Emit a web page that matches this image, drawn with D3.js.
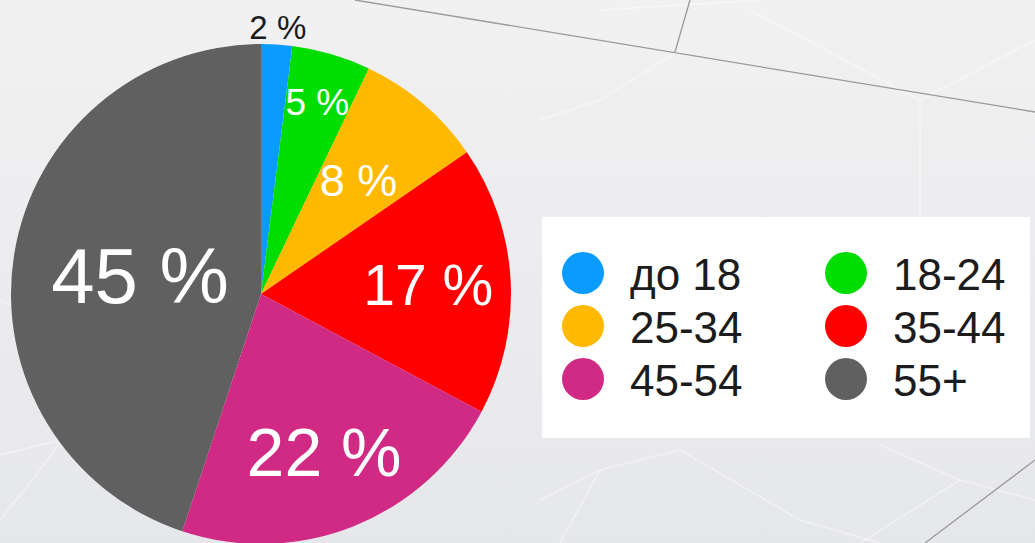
<!DOCTYPE html>
<html>
<head>
<meta charset="utf-8">
<script src="https://cdn.jsdelivr.net/npm/d3@7"></script>
<style>
  html, body { margin: 0; padding: 0; overflow: hidden; }
  body { width: 1035px; height: 543px; }
  svg { display: block; }
</style>
</head>
<body>
<svg id="chart" width="1035" height="543"></svg>
<script>
// ---- data ----
const categories = ["до 18", "18-24", "25-34", "35-44", "45-54", "55+"];
const shares = [2.0, 5.1, 8.3, 17.4, 22.3, 44.9];
const labels = ["2 %", "5 %", "8 %", "17 %", "22 %", "45 %"];
const colors = ["#0a9bff", "#00dd00", "#ffb900", "#ff0000", "#d02a85", "#606060"];

// ---- layout ----
const W = 1035, H = 543;
const cx = 261, cy = 294, R = 250;
const svg = d3.select("#chart");

// background
const defs = svg.append("defs");
const bg = defs.append("linearGradient").attr("id", "bg").attr("x1", 0).attr("y1", 0).attr("x2", 0).attr("y2", 1);
bg.append("stop").attr("offset", "0%").attr("stop-color", "#f1f1f2");
bg.append("stop").attr("offset", "100%").attr("stop-color", "#e6e7ea");
svg.append("rect").attr("width", W).attr("height", H).attr("fill", "url(#bg)");

// faint decorative network
const faint = [
  [[0, 300], [120, 360], [40, 470], [0, 520]],
  [[600, 10], [760, 0]],
  [[750, 10], [920, 100], [1035, 40]],
  [[680, 50], [600, 100], [540, 120]],
  [[920, 100], [920, 220]],
  [[540, 500], [600, 470], [680, 450], [800, 520], [880, 543]],
  [[600, 470], [560, 543]],
  [[860, 543], [960, 480], [1035, 500]],
  [[880, 445], [960, 480]],
  [[0, 455], [60, 440], [100, 410]],
];
svg.append("g").selectAll("path").data(faint).join("path")
  .attr("d", d3.line())
  .attr("fill", "none").attr("stroke", "#ffffff").attr("stroke-opacity", 0.35).attr("stroke-width", 2);

const dark = [
  [[355, 0], [1035, 112]],
  [[690, 0], [675, 52]],
  [[1035, 460], [925, 543]],
];
svg.append("g").selectAll("path").data(dark).join("path")
  .attr("d", d3.line())
  .attr("fill", "none").attr("stroke", "#9a9a9a").attr("stroke-width", 1.3);

// ---- pie ----
const pie = d3.pie().sort(null).value(d => d)(shares);
const arc = d3.arc().innerRadius(0).outerRadius(R);
const g = svg.append("g").attr("transform", `translate(${cx},${cy})`);
g.selectAll("path.slice").data(pie).join("path")
  .attr("class", "slice")
  .attr("d", arc)
  .attr("fill", (d, i) => colors[i]);

// label placement (fraction of radius) and size
const labelRadius = [1.07, 0.80, 0.60, 0.67, 0.68, 0.49];
const fontSize = d3.scaleLinear().domain([2, 5, 8, 17, 22, 45]).range([33, 37, 45, 57, 68, 78]);
g.selectAll("text.lbl").data(pie).join("text")
  .attr("class", "lbl")
  .attr("x", (d, i) => Math.sin((d.startAngle + d.endAngle) / 2) * R * labelRadius[i])
  .attr("y", (d, i) => -Math.cos((d.startAngle + d.endAngle) / 2) * R * labelRadius[i])
  .attr("dy", "0.36em")
  .attr("text-anchor", "middle")
  .attr("font-family", "'Liberation Sans', Arial, sans-serif")
  .attr("font-size", (d, i) => fontSize(parseFloat(labels[i])))
  .attr("fill", (d, i) => labelRadius[i] > 1 ? "#1a1a1a" : "#ffffff")
  .text((d, i) => labels[i]);

// ---- legend ----
const lg = svg.append("g");
lg.append("rect").attr("x", 542).attr("y", 217).attr("width", 488).attr("height", 221).attr("fill", "#ffffff");
const colX = d3.scalePoint().domain([0, 1]).range([583, 846]);
const rowY = d3.scalePoint().domain([0, 1, 2]).range([273, 379]);
const items = lg.selectAll("g.item").data(categories).join("g")
  .attr("class", "item")
  .attr("transform", (d, i) => `translate(${colX(i % 2)},${rowY(Math.floor(i / 2))})`);
items.append("circle").attr("r", 21).attr("fill", (d, i) => colors[i]);
items.append("text")
  .attr("x", 47).attr("y", 17)
  .attr("font-family", "'Liberation Sans', Arial, sans-serif")
  .attr("font-size", 44)
  .attr("fill", "#1c1c1c")
  .text(d => d);
</script>
</body>
</html>
